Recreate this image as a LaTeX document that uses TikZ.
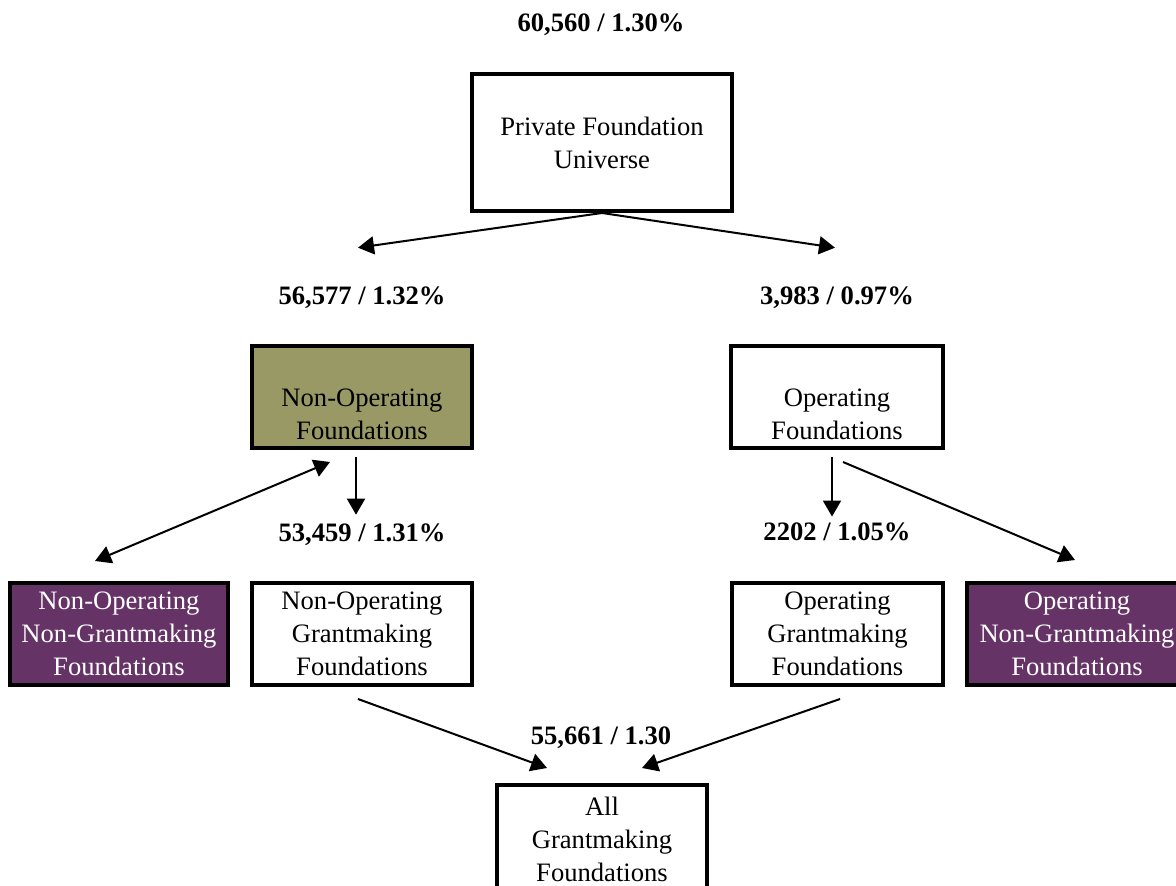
\documentclass[tikz,border=0pt]{standalone}
\usepackage{fontspec}
\setmainfont{Liberation Serif}
\usetikzlibrary{arrows.meta,positioning}
\definecolor{olivebox}{HTML}{999966}
\definecolor{plum}{HTML}{663366}

\begin{document}
\begin{tikzpicture}[
  x=0.5pt, y=-0.5pt,
  font=\fontsize{13.3}{16.5}\selectfont, >={Triangle[length=8pt,width=9pt]},
  box/.style={draw, line width=2pt, inner sep=0pt, align=center},
  olv/.style={box, fill=olivebox},
  prp/.style={box, fill=plum, text=white},
  txt/.style={align=center, inner sep=0pt},
  num/.style={font=\fontsize{13.3}{16}\selectfont\bfseries, inner sep=0pt},
  arr/.style={->, line width=1pt}
]
\useasboundingbox (0,0) rectangle (1176,886);
% ---------------- universe
\node[num] (n60) at (601,25) {60,560 / 1.30\%};
\node[box, minimum width=130pt, minimum height=68.5pt] (univ) at (602,142.5) {Private Foundation\\Universe};
% ---------------- operating / non-operating
\node[num] (n56) at (362,298) {56,577 / 1.32\%};
\node[num] (n39) at (837,298) {3,983 / 0.97\%};
\node[olv, minimum width=110pt, minimum height=51pt] (nonop) at (362,397) {};
\node[txt] (nonop-t) at (362,414) {Non-Operating\\Foundations};
\node[box, minimum width=106pt, minimum height=51pt] (op) at (837,397) {};
\node[txt] (op-t) at (837,414) {Operating\\Foundations};
\node[num] (n53) at (362,535) {53,459 / 1.31\%};
\node[num] (n22) at (837,532) {2202 / 1.05\%};
% ---------------- grantmaking / non-grantmaking
\node[prp, minimum width=109pt, minimum height=51pt] (nong) at (119,634) {Non-Operating\\Non-Grantmaking\\Foundations};
\node[box, minimum width=110pt, minimum height=51pt] (nogm) at (362,634) {Non-Operating\\Grantmaking\\Foundations};
\node[box, minimum width=105.5pt, minimum height=51pt] (opgm) at (837.5,634) {Operating\\Grantmaking\\Foundations};
\node[prp, minimum width=110pt, minimum height=51pt] (opng) at (1077,634) {Operating\\Non-Grantmaking\\Foundations};
% ---------------- all grantmaking
\node[num] (n55) at (601,738) {55,661 / 1.30};
\node[box, minimum width=105pt, minimum height=57pt] (all) at (602,842) {};
\node[txt] (all-t) at (602,839) {All\\Grantmaking\\Foundations};
% ---------------- arrows
\draw[arr] (univ.south) -- ([shift={(-4,-39)}]n56.north);
\draw[arr] (univ.south) -- ([shift={(-2,-39)}]n39.north);
\draw[arr, <->] ([shift={(-32,12)}]nonop.south) -- ([shift={(-24,-20)}]nong.north);
\draw[arr] ([shift={(-6,7)}]nonop.south) -- ([shift={(-6,-9)}]n53.north);
\draw[arr] ([shift={(-5,7)}]op.south) -- ([shift={(-5,-6)}]n22.north);
\draw[arr] ([shift={(6,12)}]op.south) -- ([shift={(-2,-21)}]opng.north);
\draw[arr] ([shift={(-4,12)}]nogm.south) -- ([shift={(-55,-15)}]all.north);
\draw[arr] ([shift={(2.5,12)}]opgm.south) -- ([shift={(40,-15)}]all.north);
\end{tikzpicture}
\end{document}
